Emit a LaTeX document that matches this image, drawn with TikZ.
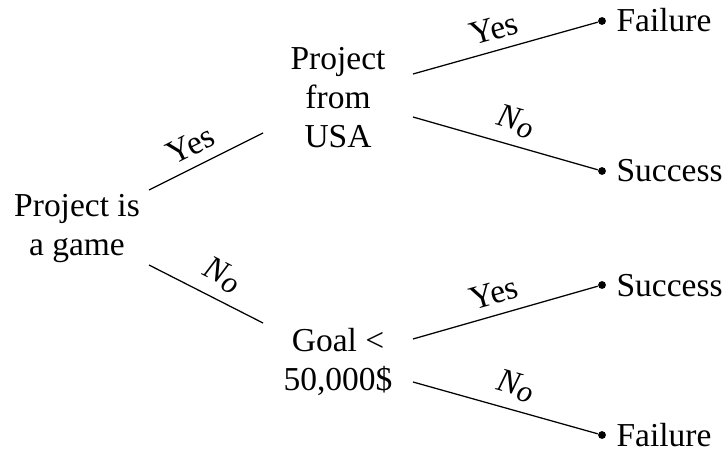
\documentclass[tikz,border=0pt]{standalone}
\usepackage{fontspec}
\setmainfont{Liberation Serif}
\newcommand{\nolabel}{{\itshape N}\raisebox{-0.3ex}{\fontsize{11}{11}\selectfont\itshape o}}
\begin{document}
\begin{tikzpicture}[x=0.3585pt,y=-0.3585pt,
  every node/.style={font=\fontsize{12}{14}\selectfont},
  txt/.style={align=center,inner sep=0pt},
  leafdot/.style={circle,fill=black,inner sep=0pt,minimum size=2.8pt},
  leaftxt/.style={anchor=base west,inner sep=0pt},
  edge/.style={line width=0.45pt},
  lab/.style={sloped,above,inner sep=3.5pt}]
\useasboundingbox (0,0) rectangle (722,451);
% decision nodes
\node[txt] (root) at (77,229) {Project is\\a game};
\node[txt] (usa) at (338,98) {Project\\from\\USA};
\node[txt] (goal) at (338,362) {Goal <\\50,000\$};
% connector ends
\coordinate (rA) at (149,190);
\coordinate (rB) at (149,265);
\coordinate (uIn) at (263,133);
\coordinate (gIn) at (263,323);
\coordinate (uA) at (413,74);
\coordinate (uB) at (413,117);
\coordinate (gA) at (413,339);
\coordinate (gB) at (413,382);
% leaves
\node[leafdot] (l1) at (602,21) {};
\node[leafdot] (l2) at (602,171) {};
\node[leafdot] (l3) at (602,285) {};
\node[leafdot] (l4) at (602,435) {};
\node[leaftxt] (t1) at (616,32) {Failure};
\node[leaftxt] (t2) at (616,182) {Success};
\node[leaftxt] (t3) at (616,296) {Success};
\node[leaftxt] (t4) at (616,446) {Failure};
% edges
\draw[edge] (rA) -- node[lab,pos=0.45] {Yes} (uIn);
\draw[edge] (rB) -- node[lab,pos=0.55] {\nolabel} (gIn);
\draw[edge] (uA) -- node[lab,pos=0.47] {Yes} (l1);
\draw[edge] (uB) -- node[lab,pos=0.52] {\nolabel} (l2);
\draw[edge] (gA) -- node[lab,pos=0.47] {Yes} (l3);
\draw[edge] (gB) -- node[lab,pos=0.52] {\nolabel} (l4);
\end{tikzpicture}
\end{document}
